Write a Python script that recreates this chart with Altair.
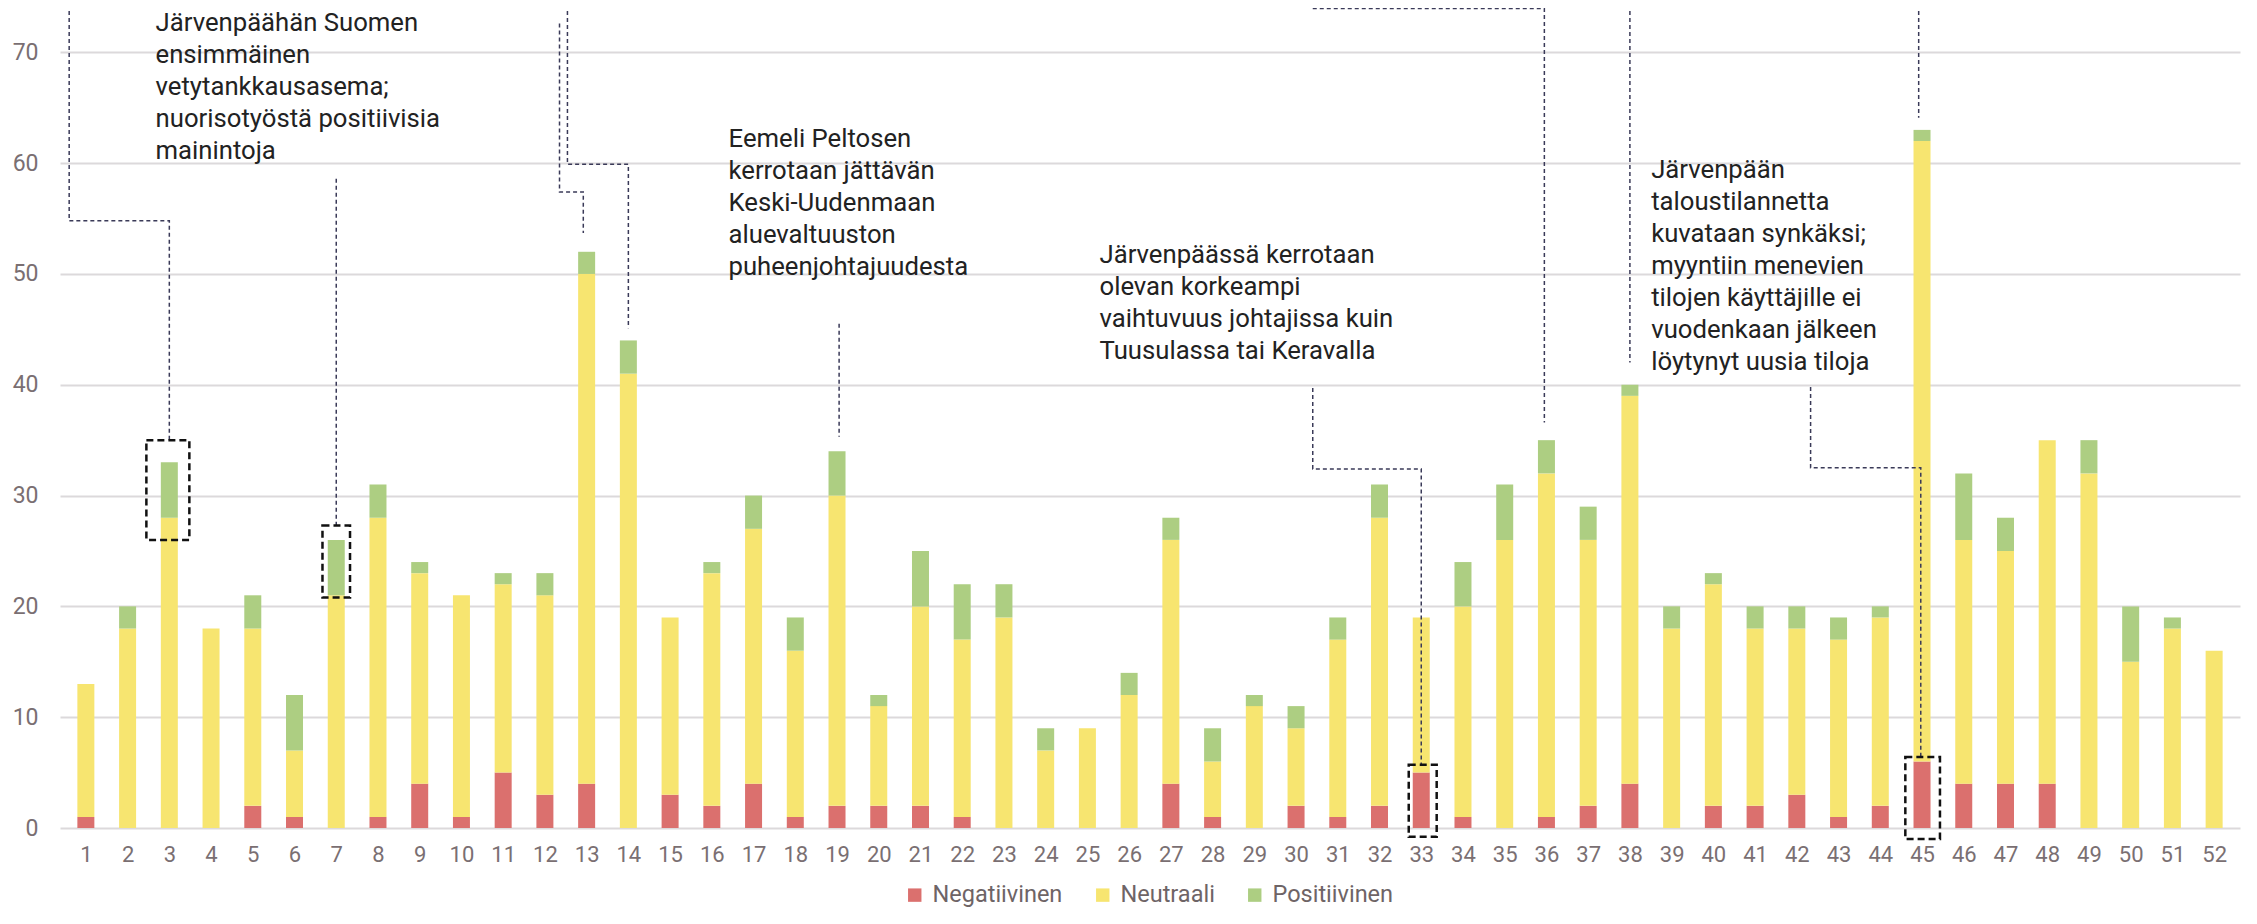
import altair as alt
import pandas as pd

weeks = list(range(1, 53))
negatiivinen = [1,0,0,0,2,1,0,1,4,1, 5,3,4,0,3,2,4,1,2,2, 2,1,0,0,0,0,4,1,0,2,
                1,2,5,1,0,1,2,4,0,2, 2,3,1,2,6,4,4,4,0,0, 0,0]
neutraali = [12,18,28,18,16,6,21,27,19,20, 17,18,46,41,16,21,23,15,28,9,
             18,16,19,7,9,12,22,5,11,7, 16,26,14,19,26,31,24,35,18,20,
             16,15,16,17,56,22,21,31,32,15, 18,16]
positiivinen = [0,2,5,0,3,5,5,3,1,0, 1,2,2,3,0,1,3,3,4,1, 5,5,3,2,0,2,2,3,1,2,
                2,3,0,4,5,3,3,1,2,1, 2,2,2,1,1,6,3,0,3,5, 1,0]
series = ["Negatiivinen", "Neutraali", "Positiivinen"]
colors = ["#DB706E", "#F7E570", "#ADCE82"]

rows = []
for i, w in enumerate(weeks):
    for k, (name, vals) in enumerate(zip(series, [negatiivinen, neutraali, positiivinen])):
        rows.append({"viikko": w, "sarja": name, "arvo": vals[i], "jarj": k})
bars_df = pd.DataFrame(rows)

# annotation texts
ann_text = [
    "Järvenpäähän Suomen\nensimmäinen\nvetytankkausasema;\nnuorisotyöstä positiivisia\nmainintoja",
    "Eemeli Peltosen\nkerrotaan jättävän\nKeski-Uudenmaan\naluevaltuuston\npuheenjohtajuudesta",
    "Järvenpäässä kerrotaan\nolevan korkeampi\nvaihtuvuus johtajissa kuin\nTuusulassa tai Keravalla",
    "Järvenpään\ntaloustilannetta\nkuvataan synkäksi;\nmyyntiin menevien\ntilojen käyttäjille ei\nvuodenkaan jälkeen\nlöytynyt uusia tiloja",
]
ann_x = [2.67, 16.4, 25.29, 38.51]
ann_y = [73.7, 63.3, 52.8, 60.5]
text_df = pd.DataFrame({"teksti": ann_text, "x": ann_x, "y": ann_y})

# dashed connector polylines (x in week units, y in value units)
conn_id = [1,1,1,1, 2,2, 3,3,3,3, 4,4,4,4, 5,5, 6,6,6,6, 7,7,7, 8,8, 9,9,9,9, 10,10]
conn_x = [0.6,0.6,3.0,3.0, 7.0,7.0, 12.35,12.35,12.92,12.92, 12.54,12.54,14.0,14.0,
          19.05,19.05, 30.4,30.4,33.0,33.0, 30.4,35.95,35.95, 38.0,38.0,
          42.33,42.33,44.97,44.97, 44.92,44.92]
conn_y = [75,54.8,54.8,34.9, 58.6,27.3, 72.6,57.4,57.4,53.7, 75,59.9,59.9,45.1,
          45.5,35.3, 39.7,32.4,32.4,5.7, 73.95,73.95,36.6, 75,42.0,
          39.8,32.5,32.5,6.4, 75,64.1]
conn_df = pd.DataFrame({"id": conn_id, "x": conn_x, "y": conn_y,
                        "n": list(range(len(conn_id)))})

# dashed highlight boxes
box_x1 = [2.45, 6.67, 32.7, 44.6]
box_x2 = [3.48, 7.33, 33.37, 45.43]
box_y1 = [26.0, 20.8, -0.8, -1.0]
box_y2 = [35.0, 27.3, 5.7, 6.4]
box_df = pd.DataFrame({"x1": box_x1, "x2": box_x2, "y1": box_y1, "y2": box_y2})

xscale = alt.Scale(domain=[0.5, 52.5], nice=False, zero=False)
yscale = alt.Scale(domain=[0, 74], nice=False)

bars = alt.Chart(bars_df).mark_bar(size=17).encode(
    x=alt.X("viikko:Q", scale=xscale,
            axis=alt.Axis(values=weeks, format="d", title=None, grid=False,
                          ticks=False, domain=False, labelFontSize=22,
                          labelColor="#7A6F72", labelPadding=16,
                          labelOverlap=False, labelFlush=False,
                          labelFont="Roboto")),
    y=alt.Y("arvo:Q", stack="zero", scale=yscale,
            axis=alt.Axis(values=list(range(0, 80, 10)), title=None,
                          grid=True, gridColor="#DCD9DB", gridWidth=2,
                          ticks=False, domain=False, labelFontSize=23,
                          labelColor="#7A6F72", labelPadding=22,
                          labelFont="Roboto")),
    color=alt.Color("sarja:N", scale=alt.Scale(domain=series, range=colors),
                    legend=alt.Legend(title=None, orient="none",
                                      legendX=843, legendY=875,
                                      direction="horizontal",
                                      symbolType="square", symbolSize=180,
                                      symbolStrokeWidth=0,
                                      labelFontSize=23.5, labelColor="#6E6466",
                                      labelFont="Roboto",
                                      columnPadding=28, labelOffset=6)),
    order=alt.Order("jarj:Q", sort="ascending"),
)

conns = alt.Chart(conn_df).mark_line(
    color="#3A3A58", strokeWidth=1.5, strokeDash=[4, 3]
).encode(
    x=alt.X("x:Q", scale=xscale),
    y=alt.Y("y:Q", scale=yscale),
    detail="id:N",
    order="n:Q",
)

boxes = alt.Chart(box_df).mark_rect(
    fill=None, fillOpacity=0, stroke="#111111", strokeWidth=2.5, strokeDash=[7, 4]
).encode(
    x=alt.X("x1:Q", scale=xscale), x2="x2:Q",
    y=alt.Y("y1:Q", scale=yscale), y2="y2:Q",
)

texts = alt.Chart(text_df).mark_text(
    align="left", baseline="top", fontSize=25.7, lineHeight=32,
    font="Roboto", color="#222222", lineBreak="\n"
).encode(
    x=alt.X("x:Q", scale=xscale),
    y=alt.Y("y:Q", scale=yscale),
    text="teksti:N",
)

chart = alt.layer(bars, conns, boxes, texts).properties(
    width=2180, height=820,
    autosize=alt.AutoSizeParams(type="none"),
    padding={"left": 52, "top": 0, "right": 8, "bottom": 88},
    background="white",
).configure_view(stroke=None)

chart.save("out.html", embed_options={"renderer": "svg", "actions": False})
